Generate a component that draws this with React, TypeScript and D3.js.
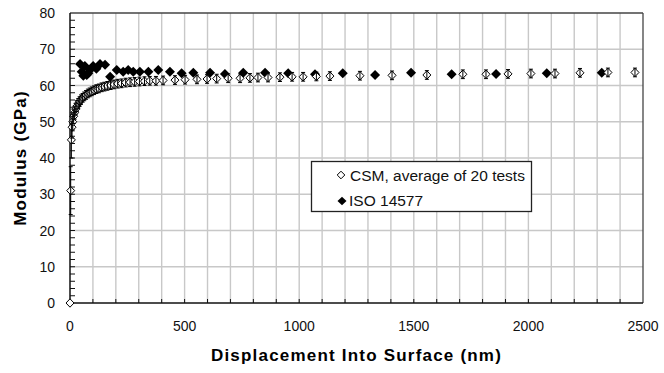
import React from 'react';
import * as d3 from 'd3';

// CSM, average of 20 tests: [displacement nm, modulus GPa, error]
const csmData: [number, number, number][] = [
  [0, 0, 0], [3, 31, 6.6], [6, 45, 5], [9, 48.5, 3], [12, 50, 2.5], [16, 51.5, 2],
  [20, 52.5, 1.8], [25, 53.5, 1.6], [30, 54.3, 1.5], [36, 55, 1.4], [42, 55.6, 1.3],
  [48, 56.1, 1.3], [55, 56.6, 1.2], [62, 57, 1.2], [70, 57.4, 1.2], [78, 57.8, 1.2],
  [86, 58.1, 1.2], [95, 58.4, 1.2], [105, 58.7, 1.2], [115, 59, 1.2], [126, 59.2, 1.2],
  [138, 59.5, 1.2], [150, 59.7, 1.2], [163, 59.9, 1.2], [177, 60.1, 1.2], [192, 60.3, 1.2],
  [208, 60.5, 1.2], [225, 60.6, 1.2], [243, 60.8, 1.2], [262, 60.9, 1.2], [282, 61, 1.2],
  [303, 61.1, 1.2], [325, 61.2, 1.2], [348, 61.3, 1.2], [375, 61.3, 1.2], [406, 61.4, 1.2],
  [458, 61.5, 1.2], [502, 61.6, 1.2], [554, 61.7, 1.2], [598, 61.8, 1.2], [640, 61.9, 1.2],
  [690, 62, 1.2], [742, 62, 1.2], [785, 62.1, 1.2], [820, 62.2, 1.2], [864, 62.2, 1.2],
  [916, 62.3, 1.2], [969, 62.4, 1.2], [1017, 62.4, 1.2], [1075, 62.5, 1.2], [1134, 62.6, 1.2],
  [1265, 62.7, 1.2], [1405, 62.8, 1.2], [1557, 62.9, 1.2], [1714, 63.1, 1.2], [1815, 63.1, 1.2],
  [1911, 63.2, 1.2], [2011, 63.3, 1.2], [2116, 63.3, 1.2], [2225, 63.5, 1.2], [2347, 63.6, 1.2],
  [2465, 63.6, 1.2],
];

// ISO 14577: [displacement nm, modulus GPa]
const isoData: [number, number][] = [
  [44, 65.9], [51, 63.8], [58, 62.7], [65, 65.4], [73, 62.9], [80, 63.4], [87, 64.3],
  [101, 65.4], [115, 64.6], [131, 65.9], [153, 65.7], [175, 62.4], [204, 64.3],
  [232, 63.8], [254, 64.3], [276, 63.8], [305, 63.8], [342, 63.8], [385, 64.3],
  [436, 63.8], [487, 63.4], [538, 63.5], [611, 63.5], [676, 63.2], [756, 63.5],
  [851, 63.5], [952, 63.4], [1069, 63.1], [1190, 63.4], [1331, 62.9], [1488, 63.5],
  [1665, 63.1], [1859, 63.2], [2080, 63.4], [2320, 63.5],
];

const xTicks = [0, 500, 1000, 1500, 2000, 2500];
const yTicks = [0, 10, 20, 30, 40, 50, 60, 70, 80];
const legendLabels = ['CSM, average of 20 tests', 'ISO 14577'];

const W = 664, H = 373;
const m = { left: 70, right: 643, top: 13, bottom: 303 };
const font = 'Liberation Sans, Arial, sans-serif';

const diamond = (cx: number, cy: number, rx: number, ry: number) =>
  `M${cx},${cy - ry}L${cx + rx},${cy}L${cx},${cy + ry}L${cx - rx},${cy}Z`;

export default function App() {
  const x = d3.scaleLinear().domain([0, 2500]).range([m.left, m.right]);
  const y = d3.scaleLinear().domain([0, 80]).range([m.bottom, m.top]);

  const xGrid = d3.range(100, 2500, 100);
  const yGrid = d3.range(10, 80, 10);
  const yMinor = d3.range(2, 80, 2);

  return (
    <svg width={W} height={H} style={{ position: 'absolute', left: 0, top: 0, background: '#fff' }}>
      {/* grid */}
      {xGrid.map(v => (
        <line key={'gx' + v} x1={x(v)} x2={x(v)} y1={m.top} y2={m.bottom} stroke="#c8c8c8" strokeWidth={1.4} />
      ))}
      {yGrid.map(v => (
        <line key={'gy' + v} x1={m.left} x2={m.right} y1={y(v)} y2={y(v)} stroke="#c8c8c8" strokeWidth={1.4} />
      ))}
      {/* frame */}
      <line x1={m.left} x2={m.right} y1={m.top} y2={m.top} stroke="#444" strokeWidth={1.3} />
      <line x1={m.right} x2={m.right} y1={m.top} y2={m.bottom} stroke="#444" strokeWidth={1.3} />
      <line x1={m.left} x2={m.left} y1={m.top} y2={m.bottom} stroke="#111" strokeWidth={1.5} />
      <line x1={m.left} x2={m.right} y1={m.bottom} y2={m.bottom} stroke="#111" strokeWidth={1.5} />
      {/* minor ticks */}
      {yMinor.map(v => (
        <line key={'ty' + v} x1={m.left} x2={m.left + 5} y1={y(v)} y2={y(v)} stroke="#111" strokeWidth={1} />
      ))}
      {xGrid.map(v => (
        <line key={'tx' + v} x1={x(v)} x2={x(v)} y1={m.bottom} y2={m.bottom - 4} stroke="#111" strokeWidth={1} />
      ))}
      {/* tick labels */}
      {yTicks.map(v => (
        <text key={'ly' + v} x={55} y={y(v) + 5} textAnchor="end" fontFamily={font} fontSize={14} fill="#111">{v}</text>
      ))}
      {xTicks.map(v => (
        <text key={'lx' + v} x={x(v)} y={331} textAnchor="middle" fontFamily={font} fontSize={14} fill="#111">{v}</text>
      ))}
      {/* axis titles */}
      <text x={(m.left + m.right) / 2} y={361} textAnchor="middle" fontFamily={font} fontSize={17} letterSpacing={1.2} fontWeight="bold" fill="#000">
        Displacement Into Surface (nm)
      </text>
      <text transform={`translate(26,${(m.top + m.bottom) / 2}) rotate(-90)`} textAnchor="middle" fontFamily={font} fontSize={17} letterSpacing={1.2} fontWeight="bold" fill="#000">
        Modulus (GPa)
      </text>
      {/* ISO markers */}
      {isoData.map((d, i) => (
        <path key={'s' + i} d={diamond(x(d[0]), y(d[1]), 5, 5)} fill="#000" />
      ))}
      {/* CSM markers */}
      {csmData.map((d, i) => (
        <path key={'c' + i} d={diamond(x(d[0]), y(d[1]), 4, 4.2)} fill="#fff" stroke="#000" strokeWidth={1} />
      ))}
      {/* CSM error bars */}
      {csmData.filter(d => d[2] > 0).map((d, i) => (
        <g key={'e' + i} stroke="#000" strokeWidth={1}>
          <line x1={x(d[0])} x2={x(d[0])} y1={y(d[1] - d[2])} y2={y(d[1] + d[2])} />
          <line x1={x(d[0]) - 2} x2={x(d[0]) + 2} y1={y(d[1] - d[2])} y2={y(d[1] - d[2])} />
          <line x1={x(d[0]) - 2} x2={x(d[0]) + 2} y1={y(d[1] + d[2])} y2={y(d[1] + d[2])} />
        </g>
      ))}
      {/* legend */}
      <rect x={311.5} y={161.5} width={220} height={50} fill="#fff" stroke="#222" strokeWidth={1.3} />
      <path d={diamond(341, 175, 3.8, 3.8)} fill="#fff" stroke="#000" strokeWidth={1} />
      <text x={350} y={180.5} fontFamily={font} fontSize={15.5} fill="#111">{legendLabels[0]}</text>
      <path d={diamond(342, 201, 4.5, 4.2)} fill="#000" />
      <text x={349} y={206} fontFamily={font} fontSize={15.5} fill="#111">{legendLabels[1]}</text>
    </svg>
  );
}
